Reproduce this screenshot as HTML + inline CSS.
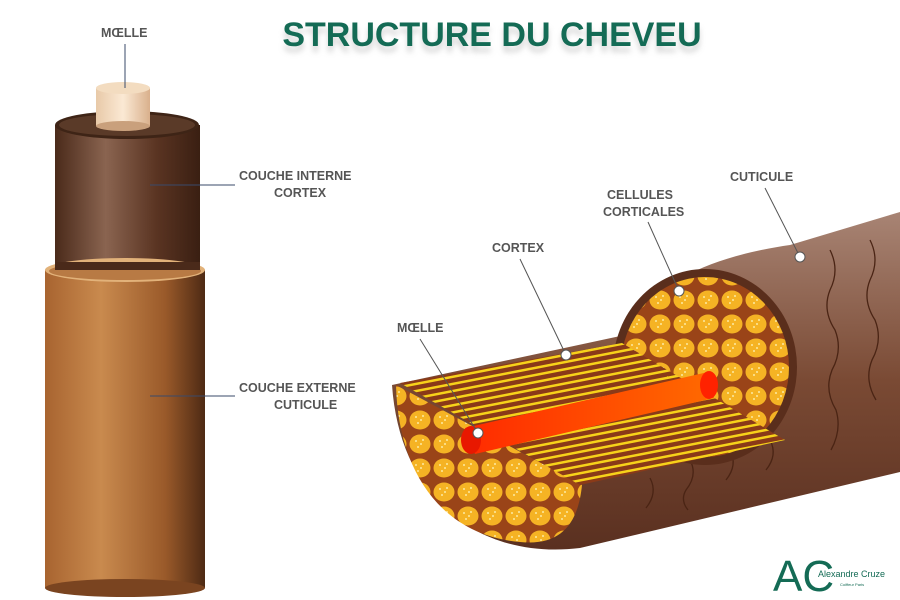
<!DOCTYPE html>
<html><head><meta charset="utf-8"><style>
body{margin:0;background:#fff}
svg{display:block}
text{font-family:"Liberation Sans",sans-serif}
.l{font-size:12.5px;font-weight:bold;fill:#555}
</style></head><body>
<svg width="900" height="600" viewBox="0 0 900 600">
<defs>
<filter id="bl"><feGaussianBlur stdDeviation="3"/></filter>
<linearGradient id="inner" x1="0" x2="1"><stop offset="0" stop-color="#4a2a1a"/><stop offset=".35" stop-color="#8a6450"/><stop offset=".7" stop-color="#5a3422"/><stop offset="1" stop-color="#3a1f12"/></linearGradient>
<linearGradient id="outer" x1="0" x2="1"><stop offset="0" stop-color="#a86430"/><stop offset=".35" stop-color="#c98a4e"/><stop offset=".75" stop-color="#9a5a2a"/><stop offset="1" stop-color="#4e2a14"/></linearGradient>
<linearGradient id="core" x1="0" x2="1"><stop offset="0" stop-color="#e8c9a8"/><stop offset=".5" stop-color="#fbe9d4"/><stop offset="1" stop-color="#d9b08c"/></linearGradient>
<linearGradient id="tube" x1="0" y1="0" x2="0" y2="1"><stop offset="0" stop-color="#a88474"/><stop offset=".5" stop-color="#7a4a34"/><stop offset="1" stop-color="#5a3020"/></linearGradient>
<linearGradient id="red" x1="0" x2="1"><stop offset="0" stop-color="#ff2a00"/><stop offset="1" stop-color="#ff6a00"/></linearGradient>
<pattern id="str" width="8" height="7" patternUnits="userSpaceOnUse" patternTransform="rotate(-11)"><rect width="8" height="7" fill="#8a3a18"/><rect width="8" height="2.5" fill="#f7d21a"/></pattern>
<pattern id="cell" width="24" height="24" patternUnits="userSpaceOnUse"><rect width="24" height="24" fill="#9a4418"/><ellipse cx="12" cy="12" rx="10.5" ry="9.5" fill="#f5b324"/><circle cx="8" cy="9" r="1" fill="#fde9a0"/><circle cx="13" cy="12" r="1" fill="#fde9a0"/><circle cx="10" cy="15" r="1" fill="#fde9a0"/><circle cx="15" cy="8" r="1" fill="#fde9a0"/></pattern>
</defs>
<text x="492" y="52" text-anchor="middle" font-size="34" font-weight="bold" fill="#bbb" filter="url(#bl)" opacity=".6">STRUCTURE DU CHEVEU</text>
<text x="492" y="46" text-anchor="middle" font-size="34" font-weight="bold" fill="#146b55">STRUCTURE DU CHEVEU</text>

<!-- left cylinder -->
<rect x="55" y="125" width="145" height="155" fill="url(#inner)"/>
<ellipse cx="127" cy="125" rx="72" ry="14" fill="#3e2416"/>
<ellipse cx="127" cy="125" rx="68" ry="11" fill="#5a3a28"/>
<rect x="96" y="88" width="54" height="38" fill="url(#core)"/>
<ellipse cx="123" cy="126" rx="27" ry="5" fill="#c9a07c"/>
<ellipse cx="123" cy="88" rx="27" ry="6" fill="#f3dcc0"/>
<rect x="45" y="270" width="160" height="318" fill="url(#outer)"/>
<ellipse cx="125" cy="588" rx="80" ry="9" fill="#7a4420"/>
<ellipse cx="125" cy="270" rx="80" ry="12" fill="#e2b27a"/>
<ellipse cx="125" cy="271" rx="76" ry="9" fill="#b87a44"/>
<rect x="55" y="262" width="145" height="8" fill="#4a2a1a"/>
<text class="l" x="101" y="37">MŒLLE</text><line x1="125" y1="44" x2="125" y2="88" stroke="#3a4a6a"/>
<line x1="150" y1="185" x2="235" y2="185" stroke="#3a4a6a"/>
<text class="l" x="239" y="180">COUCHE INTERNE</text><text class="l" x="274" y="197">CORTEX</text>
<line x1="150" y1="396" x2="235" y2="396" stroke="#3a4a6a"/>
<text class="l" x="239" y="392">COUCHE EXTERNE</text><text class="l" x="274" y="409">CUTICULE</text>

<!-- right hair -->
<path d="M392,385 L625,335 C650,280 720,255 790,245 L900,212 L900,472 L580,548 C480,560 400,500 392,385 Z" fill="url(#tube)"/>
<g fill="none" stroke="#4a2414" stroke-width="1.3">
<path d="M830,250 q10,20 0,40 q-8,20 5,40 q8,20 -3,40 q-8,20 4,40 q6,20 -5,40"/>
<path d="M870,240 q10,20 0,40 q-8,20 5,40 q8,20 -3,40 q-8,20 4,40"/>
<path d="M690,460 q8,15 -4,30 q-6,10 2,20"/><path d="M650,478 q8,15 -4,30"/><path d="M730,450 q8,15 -4,30"/><path d="M770,440 q8,15 -4,30"/>
</g>
<ellipse cx="705" cy="367" rx="92" ry="98" fill="#5a2e1c"/>
<ellipse cx="705" cy="367" rx="84" ry="90" fill="url(#cell)"/>
<path d="M396,385 C398,470 440,535 520,542 C560,546 578,525 582,485 Z" fill="url(#cell)"/>
<path d="M400,383 L622,343 L785,440 L580,485 Z" fill="url(#str)"/>
<path d="M465,428 L708,372 L714,398 L475,454 Z" fill="url(#red)"/>
<ellipse cx="709" cy="385" rx="9" ry="14" fill="#ff2200"/>
<ellipse cx="471" cy="440" rx="10" ry="14" fill="#e81800"/>

<g stroke="#555" stroke-width="1">
<line x1="420" y1="339" x2="478" y2="433"/>
<line x1="520" y1="259" x2="566" y2="355"/>
<line x1="648" y1="222" x2="679" y2="291"/>
<line x1="765" y1="188" x2="800" y2="257"/>
</g>
<g fill="#fff" stroke="#555"><circle cx="478" cy="433" r="5"/><circle cx="566" cy="355" r="5"/><circle cx="679" cy="291" r="5"/><circle cx="800" cy="257" r="5"/></g>
<text class="l" x="397" y="332">MŒLLE</text>
<text class="l" x="492" y="252">CORTEX</text>
<text class="l" x="607" y="199">CELLULES</text><text class="l" x="603" y="216">CORTICALES</text>
<text class="l" x="730" y="181">CUTICULE</text>

<!-- logo -->
<text x="773" y="591" font-size="44" fill="#146b55" font-family="Liberation Sans">AC</text>
<text x="818" y="577" font-size="9" fill="#146b55">Alexandre Cruze</text>
<text x="840" y="586" font-size="4" fill="#146b55">Coiffeur Paris</text>
</svg>
</body></html>
